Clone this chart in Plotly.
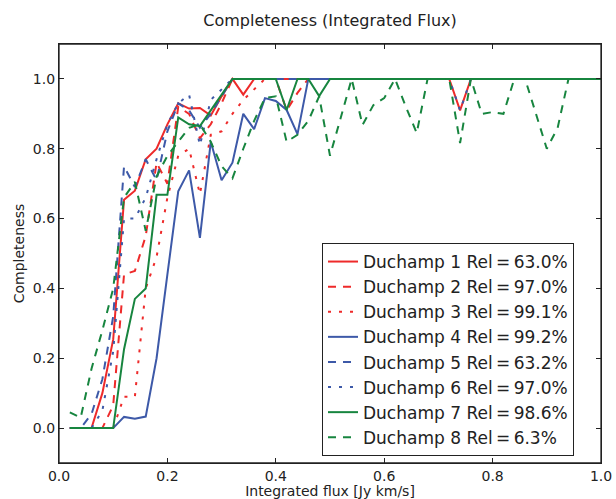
import plotly.graph_objects as go

flux = [0.02, 0.04, 0.06, 0.08, 0.10, 0.12, 0.14, 0.16, 0.18, 0.20,
        0.22, 0.24, 0.26, 0.28, 0.30, 0.32, 0.34, 0.36, 0.38, 0.40,
        0.42, 0.44, 0.46, 0.48, 0.50, 0.52, 0.54, 0.56, 0.58, 0.60,
        0.62, 0.64, 0.66, 0.68, 0.70, 0.72, 0.74, 0.76, 0.78, 0.80,
        0.82, 0.84, 0.86, 0.88, 0.90, 0.92, 0.94, 0.96, 0.98, 1.00]

duchamp1 = [0, 0, 0, 0.10, 0.254, 0.654, 0.68, 0.77, 0.80, 0.87,
            0.93, 0.915, 0.917, 0.895, 0.95, 1, 0.955, 1, 1, 1,
            1, 1, 1, 1, 1, 1, 1, 1, 1, 1,
            1, 1, 1, 1, 1, 1, 0.91, 1, 1, 1,
            1, 1, 1, 1, 1, 1, 1, 1, 1, 1]
duchamp2 = [0, 0, 0, 0, 0.065, 0.44, 0.45, 0.55, 0.76, 0.70,
            0.92, 0.90, 0.83, 0.87, 0.93, 1, 1, 1, 1, 1,
            0.91, 0.96, 1, 1, 1, 1, 1, 1, 1, 1,
            1, 1, 1, 1, 1, 1, 1, 1, 1, 1,
            1, 1, 1, 1, 1, 1, 1, 1, 1, 1]
duchamp3 = [0, 0, 0, 0, 0, 0.09, 0.09, 0.40, 0.49, 0.66,
            0.78, 0.80, 0.67, 0.84, 0.85, 0.90, 0.94, 0.97, 1, 1,
            1, 1, 1, 1, 1, 1, 1, 1, 1, 1,
            1, 1, 1, 1, 1, 1, 1, 1, 1, 1,
            1, 1, 1, 1, 1, 1, 1, 1, 1, 1]
duchamp4 = [0, 0, 0, 0, 0, 0.032, 0.027, 0.033, 0.20, 0.44,
            0.678, 0.738, 0.545, 0.82, 0.71, 0.76, 0.90, 0.856, 0.945, 0.937,
            0.911, 0.842, 1, 1, 1, 1, 1, 1, 1, 1,
            1, 1, 1, 1, 1, 1, 1, 1, 1, 1,
            1, 1, 1, 1, 1, 1, 1, 1, 1, 1]
duchamp5 = [0, 0, 0.04, 0.14, 0.32, 0.75, 0.69, 0.77, 0.71, 0.85,
            0.93, 0.91, 0.86, 0.90, 0.95, 1, 1, 1, 1, 1,
            1, 1, 1, 1, 1, 1, 1, 1, 1, 1,
            1, 1, 1, 1, 1, 1, 1, 1, 1, 1,
            1, 1, 1, 1, 1, 1, 1, 1, 1, 1]
duchamp6 = [0, 0, 0, 0.05, 0.22, 0.60, 0.60, 0.66, 0.77, 0.87,
            0.93, 0.955, 0.81, 0.94, 0.97, 1, 1, 1, 1, 1,
            1, 1, 1, 1, 1, 1, 1, 1, 1, 1,
            1, 1, 1, 1, 1, 1, 0.91, 1, 1, 1,
            1, 1, 1, 1, 1, 1, 1, 1, 1, 1]
duchamp7 = [0, 0, 0, 0, 0, 0.226, 0.37, 0.40, 0.668, 0.668,
            0.89, 0.87, 0.865, 0.91, 0.955, 1, 1, 1, 1, 1,
            0.911, 1, 1, 0.951, 1, 1, 1, 1, 1, 1,
            1, 1, 1, 1, 1, 1, 1, 1, 1, 1,
            1, 1, 1, 1, 1, 1, 1, 1, 1, 1]
duchamp8 = [0.045, 0.03, 0.17, 0.28, 0.40, 0.66, 0.705, 0.565, 0.72, 0.78,
            0.82, 0.86, 0.87, 0.82, 0.75, 0.715, 0.80, 0.88, 0.945, 0.95,
            0.82, 0.84, 0.88, 0.95, 0.78, 0.89, 1.0, 0.868, 0.925, 0.945,
            1.0, 0.92, 0.845, 1.0, 1.0, 1.0, 0.816, 1.0, 0.90, 0.905,
            0.90, 1.0, 1.0, 0.90, 0.80, 0.86, 1.0, 1.0, 1.0, 1.0]

names = ["Duchamp 1", "Duchamp 2", "Duchamp 3", "Duchamp 4",
         "Duchamp 5", "Duchamp 6", "Duchamp 7", "Duchamp 8"]
reliability = ["63.0%", "97.0%", "99.1%", "99.2%", "63.2%", "97.0%", "98.6%", "6.3%"]
series = [duchamp1, duchamp2, duchamp3, duchamp4, duchamp5, duchamp6, duchamp7, duchamp8]
tick_vals = [0.0, 0.2, 0.4, 0.6, 0.8, 1.0]
tick_text = ["0.0", "0.2", "0.4", "0.6", "0.8", "1.0"]

RED, BLUE, GREEN = "#ee2a2a", "#3d59a8", "#17853f"
colors = [RED, RED, RED, BLUE, BLUE, BLUE, GREEN, GREEN]
DASH = "8px,7px"
DOT = "3px,8px"
dashes = ["solid", DASH, DOT, "solid", DASH, DOT, "solid", DASH]

FONT = "DejaVu Sans, Liberation Sans, sans-serif"
INK = "#222222"

fig = go.Figure()
for name, rel, ys, c, d in zip(names, reliability, series, colors, dashes):
    fig.add_trace(go.Scatter(
        x=flux, y=ys, mode="lines",
        name=f"{name} Rel\u2009=\u2009{rel}",
        line=dict(color=c, width=2, dash=d),
    ))

axis_common = dict(
    showgrid=False, zeroline=False, automargin=False,
    showline=True, linecolor=INK, linewidth=1.3, mirror="ticks",
    ticks="inside", ticklen=5, tickwidth=1, tickcolor=INK,
    tickfont=dict(family=FONT, size=14, color=INK),
    tickvals=tick_vals, ticktext=tick_text,
)

fig.update_layout(
    width=616, height=499,
    margin=dict(l=59, r=15, t=44, b=36, autoexpand=False),
    paper_bgcolor="white", plot_bgcolor="white",
    font=dict(family=FONT, color=INK),
    title=dict(text="Completeness (Integrated Flux)", x=0.5, xref="paper",
               y=1 - 20 / 499, yref="container", yanchor="middle",
               automargin=False,
               font=dict(family=FONT, size=16, color=INK)),
    xaxis=dict(range=[0, 1],
               title=dict(text="Integrated flux [Jy km/s]", standoff=2,
                          font=dict(family=FONT, size=14, color=INK)),
               **axis_common),
    yaxis=dict(range=[-0.1, 1.1],
               title=dict(text="Completeness", standoff=4,
                          font=dict(family=FONT, size=14, color=INK)),
               **axis_common),
    legend=dict(x=(322 - 59) / 542, y=(463 - 243) / 419,
                xanchor="left", yanchor="top",
                bgcolor="white", bordercolor=INK, borderwidth=1,
                font=dict(family=FONT, size=17, color=INK),
                traceorder="normal"),
    showlegend=True,
    shapes=[dict(type="rect", xref="paper", yref="paper",
                 x0=0, x1=1, y0=0, y1=1,
                 line=dict(color=INK, width=1.3), layer="above")],
)

fig.write_html(
    "out.html",
    config={"displayModeBar": False},
    post_script="document.body.style.margin='0';document.body.style.overflow='hidden';",
)
